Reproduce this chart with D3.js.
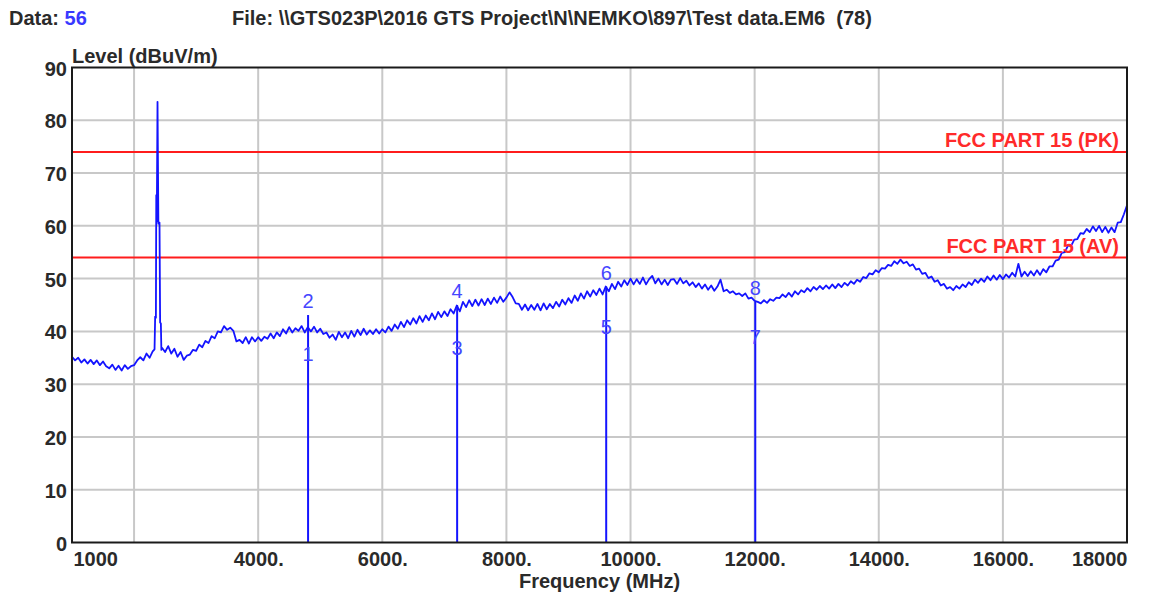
<!DOCTYPE html>
<html>
<head>
<meta charset="utf-8">
<script src="https://cdn.jsdelivr.net/npm/d3@7"></script>
<style>
  html, body { margin: 0; padding: 0; background: #ffffff; }
  svg { display: block; font-family: "Liberation Sans", Arial, sans-serif; }
</style>
</head>
<body>
<svg id="chart" width="1152" height="597"></svg>
<script>
// Sweep settings (MHz)
const sweepStart = 1000;
const sweepStep = 50;

// Measured level per sweep point, dBuV/m (1000 ... 18000 MHz, 50 MHz step)
const sweepLevels = [
  35.2, 34.5, 35.0, 34.1, 34.7, 33.9, 34.6, 33.8, 34.5, 33.6, 34.3, 33.4, 33.0, 33.7, 32.7, 33.5, 32.6, 33.6, 32.9, 33.4,
  33.6, 34.5, 35.1, 34.5, 35.8, 35.0, 36.2, 36.3, 36.4, 36.9, 36.1, 37.2, 35.8, 36.7, 35.2, 36.1, 34.6, 35.4, 35.6, 36.5,
  36.3, 37.5, 37.0, 38.2, 37.8, 39.1, 38.7, 40.0, 39.8, 41.0, 40.3, 40.7, 40.1, 38.1, 38.4, 37.8, 38.9, 37.7, 38.9, 38.1,
  38.9, 38.2, 39.0, 38.6, 39.6, 38.7, 39.8, 39.1, 40.4, 39.6, 40.8, 39.8, 40.6, 40.1, 41.0, 39.8, 40.8, 40.0, 40.9, 39.8,
  40.5, 39.5, 39.8, 38.8, 39.4, 38.4, 39.9, 38.9, 39.8, 38.7, 40.1, 39.0, 40.3, 39.3, 40.5, 39.4, 40.2, 39.5, 40.4, 39.6,
  40.4, 39.8, 40.9, 40.1, 41.3, 40.5, 41.8, 40.8, 42.1, 41.3, 42.5, 41.5, 42.9, 41.8, 43.0, 42.1, 43.4, 42.3, 43.7, 42.7,
  43.8, 42.9, 44.2, 43.4, 44.9, 43.8, 45.6, 44.6, 45.9, 44.8, 46.0, 44.9, 46.1, 45.0, 46.2, 45.2, 46.4, 45.4, 46.6, 45.6,
  46.4, 47.4, 46.5, 45.3, 45.2, 44.1, 45.1, 44.0, 45.0, 44.1, 45.2, 44.0, 45.3, 44.2, 45.2, 44.4, 45.6, 44.7, 46.0, 45.1,
  46.3, 45.4, 46.8, 45.8, 47.2, 46.2, 47.6, 46.6, 47.8, 46.9, 48.1, 47.0, 48.5, 47.6, 49.0, 48.0, 49.4, 48.5, 49.7, 48.8,
  50.0, 48.9, 49.9, 49.0, 50.2, 48.9, 49.9, 50.5, 49.1, 50.0, 48.9, 49.8, 48.8, 49.8, 49.9, 49.0, 50.1, 49.1, 49.6, 48.7,
  49.3, 48.4, 49.1, 48.1, 48.9, 47.9, 48.7, 47.7, 48.5, 49.8, 47.6, 47.9, 47.3, 47.6, 47.0, 47.2, 46.7, 47.2, 46.2, 46.4,
  45.8, 45.6, 45.3, 45.9, 45.4, 46.1, 45.8, 46.4, 46.3, 47.0, 46.5, 47.3, 46.6, 47.6, 47.0, 47.8, 47.4, 48.2, 47.6, 48.4,
  47.9, 48.6, 48.0, 48.7, 48.1, 48.9, 48.2, 49.0, 48.4, 49.2, 48.7, 49.5, 49.0, 49.8, 49.4, 50.3, 50.1, 51.0, 50.8, 51.6,
  51.2, 52.0, 51.9, 52.6, 52.4, 53.3, 52.8, 53.6, 52.9, 53.2, 52.4, 52.7, 51.7, 51.9, 50.9, 51.1, 50.1, 50.4, 49.4, 49.7,
  48.7, 49.0, 48.1, 48.4, 47.8, 48.6, 48.1, 48.9, 48.4, 49.3, 48.8, 49.8, 49.2, 50.0, 49.4, 50.4, 49.7, 50.6, 49.8, 50.7,
  49.9, 50.8, 50.2, 51.1, 50.4, 52.8, 50.4, 51.3, 50.5, 51.4, 50.6, 51.6, 50.7, 51.8, 51.2, 52.3, 52.3, 53.4, 53.6, 54.9,
  55.0, 56.3, 56.2, 57.4, 57.5, 58.6, 58.5, 59.4, 58.8, 59.9, 59.0, 60.0, 58.8, 59.8, 58.7, 59.7, 58.8, 60.6, 60.7, 62.2,
  63.9
];

// 2.4 GHz carrier, captured at finer resolution: [MHz, dBuV/m]
const carrierTrace = [
  [2330, 36.6], [2340, 42.8], [2352, 42.6], [2358, 65.8], [2366, 60.8], [2378, 83.5],
  [2392, 60.4], [2410, 60.6], [2420, 41.7], [2432, 41.5], [2440, 36.5]
];

// Harmonic markers: frequency, peak reading, average reading
const markerFreqs = [4804, 7206, 9608, 12010];
const markerPeak  = [43.1, 45.0, 48.5, 45.6];
const markerAvg   = [35.8, 36.9, 40.9, 39.0];

// Limit lines
const limitNames  = ["FCC PART 15 (PK)", "FCC PART 15 (AV)"];
const limitLevels = [74, 54];

// Axis ticks
const xTickValues = [1000, 4000, 6000, 8000, 10000, 12000, 14000, 16000, 18000];
const xGridValues = [2000, 4000, 6000, 8000, 10000, 12000, 14000, 16000];
const yTickValues = [0, 10, 20, 30, 40, 50, 60, 70, 80, 90];

const svg = d3.select("#chart");
const plot = { left: 72, right: 1127, top: 67.5, bottom: 542.5 };

const x = d3.scaleLinear().domain([1000, 18000]).range([plot.left, plot.right]);
const y = d3.scaleLinear().domain([0, 90]).range([plot.bottom, plot.top]);

const textColor = "#2a2a2a";
const blue = "#1414ff";
const fs = 20;

// Header
const header = svg.append("text")
  .attr("x", 9).attr("y", 25)
  .attr("font-size", fs).attr("font-weight", "bold").attr("fill", textColor);
header.append("tspan").text("Data: ");
header.append("tspan").attr("fill", "#3838ff").text("56");

svg.append("text")
  .attr("x", 232).attr("y", 25)
  .attr("font-size", fs).attr("font-weight", "bold").attr("fill", textColor)
  .attr("xml:space", "preserve")
  .text("File: \\\\GTS023P\\2016 GTS Project\\N\\NEMKO\\897\\Test data.EM6  (78)");

// Grid
const grid = svg.append("g");
grid.selectAll("line.v").data(xGridValues).join("line")
  .attr("x1", d => x(d)).attr("x2", d => x(d))
  .attr("y1", plot.top).attr("y2", plot.bottom)
  .attr("stroke", "#c8c8c8").attr("stroke-width", 2);
grid.selectAll("line.h").data(yTickValues.slice(1, -1)).join("line")
  .attr("x1", plot.left).attr("x2", plot.right)
  .attr("y1", d => y(d)).attr("y2", d => y(d))
  .attr("stroke", "#c8c8c8").attr("stroke-width", 2);

// Limit lines
const limits = svg.append("g");
limitLevels.forEach(lv => {
  limits.append("line")
    .attr("x1", plot.left).attr("x2", plot.right)
    .attr("y1", y(lv)).attr("y2", y(lv))
    .attr("stroke", "#ff1c1c").attr("stroke-width", 2);
});

// Trace
const sweep = sweepLevels.map((v, i) => [sweepStart + i * sweepStep, v]);
const cLo = carrierTrace[0][0], cHi = carrierTrace[carrierTrace.length - 1][0];
const trace = sweep.filter(d => d[0] < cLo || d[0] > cHi)
  .concat(carrierTrace)
  .sort((a, b) => a[0] - b[0]);

const line = d3.line().x(d => x(d[0])).y(d => y(d[1]));
svg.append("path")
  .datum(trace)
  .attr("d", line)
  .attr("fill", "none")
  .attr("stroke", blue)
  .attr("stroke-width", 1.8)
  .attr("stroke-linejoin", "round");

// Markers
const mk = svg.append("g");
markerFreqs.forEach((f, i) => {
  mk.append("line")
    .attr("x1", x(f)).attr("x2", x(f))
    .attr("y1", y(0)).attr("y2", y(markerPeak[i]))
    .attr("stroke", blue).attr("stroke-width", 2);
  mk.append("text")
    .attr("x", x(f)).attr("y", y(markerPeak[i]) - 7)
    .attr("text-anchor", "middle")
    .attr("font-size", fs).attr("fill", "#4646ff")
    .text(2 * i + 2);
  mk.append("text")
    .attr("x", x(f)).attr("y", y(markerAvg[i]) + 7)
    .attr("text-anchor", "middle")
    .attr("font-size", fs).attr("fill", "#4646ff")
    .text(2 * i + 1);
});

// Limit labels (drawn above the trace)
limitLevels.forEach((lv, i) => {
  svg.append("text")
    .attr("x", plot.right - 8).attr("y", y(lv) - 5)
    .attr("text-anchor", "end")
    .attr("font-size", fs).attr("font-weight", "bold")
    .attr("fill", "#ff2a2a")
    .text(limitNames[i]);
});

// Frame
svg.append("rect")
  .attr("x", plot.left).attr("y", plot.top)
  .attr("width", plot.right - plot.left).attr("height", plot.bottom - plot.top)
  .attr("fill", "none").attr("stroke", "#1a1a1a").attr("stroke-width", 2);

// Axes
const xAxis = d3.axisBottom(x)
  .tickValues(xTickValues)
  .tickSize(0).tickPadding(9)
  .tickFormat(d => (d === 1000 || d === 18000) ? String(d) : d + ".");
const gx = svg.append("g")
  .attr("transform", `translate(0,${plot.bottom})`)
  .call(xAxis);
gx.select(".domain").remove();
gx.selectAll("text")
  .attr("font-size", fs).attr("font-weight", "bold").attr("fill", textColor)
  .attr("font-family", "Liberation Sans, Arial, sans-serif")
  .attr("text-anchor", d => d === 1000 ? "start" : d === 18000 ? "end" : "middle")
  .attr("dx", d => d === 1000 ? 1 : 0);

const yAxis = d3.axisLeft(y)
  .tickValues(yTickValues)
  .tickSize(0).tickPadding(5);
const gy = svg.append("g")
  .attr("transform", `translate(${plot.left},0)`)
  .call(yAxis);
gy.select(".domain").remove();
gy.selectAll("text")
  .attr("font-size", fs).attr("font-weight", "bold").attr("fill", textColor)
  .attr("font-family", "Liberation Sans, Arial, sans-serif")
  .attr("dy", "0.38em");

// Axis titles
svg.append("text")
  .attr("x", plot.left).attr("y", 63)
  .attr("font-size", fs).attr("font-weight", "bold").attr("fill", textColor)
  .text("Level (dBuV/m)");

svg.append("text")
  .attr("x", (plot.left + plot.right) / 2).attr("y", 588)
  .attr("text-anchor", "middle")
  .attr("font-size", fs).attr("font-weight", "bold").attr("fill", textColor)
  .text("Frequency (MHz)");
</script>
</body>
</html>
